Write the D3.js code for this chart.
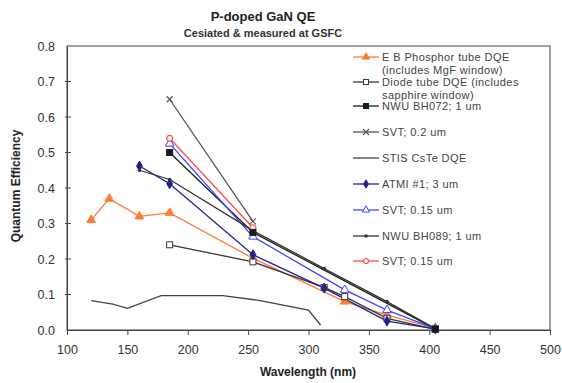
<!DOCTYPE html>
<html>
<head>
<meta charset="utf-8">
<script src="https://cdnjs.cloudflare.com/ajax/libs/d3/7.8.5/d3.min.js"></script>
<style>
  body { margin: 0; background: #fff; }
  svg text { font-family: "Liberation Sans", Arial, sans-serif; }
</style>
</head>
<body>
<div id="chart"></div>
<script>
// 1. Data (wavelength in nm, quantum efficiency)
var xTicks = [100, 150, 200, 250, 300, 350, 400, 450, 500];
var yTicks = [0, 0.1, 0.2, 0.3, 0.4, 0.5, 0.6, 0.7, 0.8];

var ebWl = [120, 135, 160, 185, 254, 330, 365, 405];
var ebQE = [0.31, 0.37, 0.32, 0.33, 0.202, 0.08, 0.042, 0.005];

var diodeWl = [185, 254, 313, 330, 365, 405];
var diodeQE = [0.24, 0.192, 0.12, 0.094, 0.033, 0.002];

var bh072Wl = [185, 254, 405];
var bh072QE = [0.50, 0.275, 0.003];

var svt02Wl = [185, 254];
var svt02QE = [0.65, 0.306];

var stisWl = [120, 138, 150, 178, 229, 260, 300, 310];
var stisQE = [0.083, 0.073, 0.061, 0.097, 0.097, 0.083, 0.056, 0.014];

var atmiWl = [160, 185, 254, 313, 365, 405];
var atmiQE = [0.462, 0.412, 0.212, 0.118, 0.025, 0.003];

var svt015bWl = [185, 254, 330, 365, 405];
var svt015bQE = [0.525, 0.263, 0.113, 0.056, 0.004];

var bh089Wl = [160, 185, 254, 313, 365, 405];
var bh089QE = [0.45, 0.424, 0.28, 0.173, 0.08, 0.004];

var svt015rWl = [185, 254];
var svt015rQE = [0.54, 0.288];

// series in legend order: label lines, colour, marker
var series = [
    { label: ["E B  Phosphor tube DQE", "(includes MgF  window)"], wl: ebWl, qe: ebQE, color: "#ff7a33", marker: "triFill" },
    { label: ["Diode tube DQE  (includes", "sapphire window)"], wl: diodeWl, qe: diodeQE, color: "#3a3a3a", marker: "squareOpen" },
    { label: ["NWU BH072; 1 um"], wl: bh072Wl, qe: bh072QE, color: "#1a1a1a", marker: "squareFill" },
    { label: ["SVT; 0.2 um"], wl: svt02Wl, qe: svt02QE, color: "#555555", marker: "cross" },
    { label: ["STIS CsTe DQE"], wl: stisWl, qe: stisQE, color: "#444444", marker: "none" },
    { label: ["ATMI #1; 3 um"], wl: atmiWl, qe: atmiQE, color: "#22228a", marker: "diamondFill" },
    { label: ["SVT; 0.15 um"], wl: svt015bWl, qe: svt015bQE, color: "#3d46ff", marker: "triOpen" },
    { label: ["NWU BH089; 1 um"], wl: bh089Wl, qe: bh089QE, color: "#333333", marker: "dot" },
    { label: ["SVT; 0.15 um"], wl: svt015rWl, qe: svt015rQE, color: "#ff4a4a", marker: "circleOpen" }
];

// 2. Layout
var width = 562, height = 383;
var plot = { left: 67, right: 550, top: 46, bottom: 330 };

var x = d3.scaleLinear().domain([100, 500]).range([plot.left, plot.right]);
var y = d3.scaleLinear().domain([0, 0.8]).range([plot.bottom, plot.top]);

var svg = d3.select("#chart").append("svg")
    .attr("width", width)
    .attr("height", height);

// 3. Titles
svg.append("text")
    .attr("x", 263).attr("y", 21)
    .attr("text-anchor", "middle")
    .style("font-size", "13px").style("font-weight", "bold").attr("fill", "#222")
    .text("P-doped  GaN QE");

svg.append("text")
    .attr("x", 263).attr("y", 37)
    .attr("text-anchor", "middle")
    .style("font-size", "11px").style("font-weight", "bold").attr("fill", "#333")
    .text("Cesiated & measured at GSFC");

// 4. Plot frame and axes
svg.append("rect")
    .attr("x", plot.left).attr("y", plot.top)
    .attr("width", plot.right - plot.left).attr("height", plot.bottom - plot.top)
    .attr("fill", "none").attr("stroke", "#444").attr("stroke-width", 1);

var xAxis = svg.append("g")
    .attr("transform", "translate(0," + plot.bottom + ")")
    .call(d3.axisBottom(x).tickValues(xTicks).tickSize(5).tickPadding(10).tickFormat(d3.format("d")));

var yAxis = svg.append("g")
    .attr("transform", "translate(" + plot.left + ",0)")
    .call(d3.axisLeft(y).tickValues(yTicks).tickSize(0).tickPadding(12).tickFormat(d3.format(".1f")));

// Excel-style short ticks crossing the value axis
svg.append("g").selectAll("line")
    .data(yTicks.slice(1, -1))
    .enter().append("line")
    .attr("x1", plot.left - 2).attr("x2", plot.left + 4)
    .attr("y1", d => y(d)).attr("y2", d => y(d))
    .attr("stroke", "#444");

[xAxis, yAxis].forEach(function (g) {
    g.select(".domain").attr("stroke", "#444");
    g.selectAll(".tick line").attr("stroke", "#444");
    g.selectAll(".tick text")
        .attr("fill", "#333")
        .style("font-size", "12.5px")
        .style("font-family", "'Liberation Sans', Arial, sans-serif");
});

svg.append("text")
    .attr("x", 308).attr("y", 376)
    .attr("text-anchor", "middle")
    .style("font-size", "12px").style("font-weight", "bold").attr("fill", "#222")
    .text("Wavelength (nm)");

svg.append("text")
    .attr("transform", "translate(20,186) rotate(-90)")
    .attr("text-anchor", "middle")
    .style("font-size", "12px").style("font-weight", "bold").attr("fill", "#222")
    .text("Quantum Efficiency");

// 5. Markers
function drawMarker(g, type, color, size) {
    var s = size || 6;
    if (type === "triFill" || type === "triOpen") {
        g.append("path")
            .attr("d", d3.symbol().type(d3.symbolTriangle).size(s * s * 0.9)())
            .attr("fill", type === "triFill" ? color : "#fff")
            .attr("stroke", color).attr("stroke-width", 1);
    } else if (type === "squareOpen" || type === "squareFill") {
        g.append("rect")
            .attr("x", -s / 2).attr("y", -s / 2).attr("width", s).attr("height", s)
            .attr("fill", type === "squareFill" ? color : "#fff")
            .attr("stroke", color).attr("stroke-width", 1);
    } else if (type === "diamondFill") {
        g.append("path")
            .attr("d", d3.symbol().type(d3.symbolDiamond).size(s * s * 0.8)())
            .attr("fill", color).attr("stroke", color);
    } else if (type === "circleOpen") {
        g.append("circle").attr("r", s / 2)
            .attr("fill", "#fff").attr("stroke", color).attr("stroke-width", 1.2);
    } else if (type === "cross") {
        g.append("path")
            .attr("d", "M-3,-3L3,3M-3,3L3,-3")
            .attr("stroke", color).attr("stroke-width", 1.1);
    } else if (type === "dot") {
        g.append("circle").attr("r", 1.8).attr("fill", color);
    }
}

// 6. Series lines, then points (NWU BH072 squares drawn last so they sit on top)
var line = d3.line()
    .x(d => x(d[0]))
    .y(d => y(d[1]));

series.forEach(function (s) {
    var pts = s.wl.map((w, i) => [w, s.qe[i]]);
    svg.append("path")
        .datum(pts)
        .attr("d", line)
        .attr("fill", "none")
        .attr("stroke", s.color)
        .attr("stroke-width", 1.3);
});

var drawOrder = [0, 1, 3, 5, 6, 7, 8, 2];
drawOrder.forEach(function (k) {
    var s = series[k];
    s.wl.forEach(function (w, i) {
        var g = svg.append("g").attr("transform", "translate(" + x(w) + "," + y(s.qe[i]) + ")");
        drawMarker(g, s.marker, s.color);
    });
});

// 7. Legend (top right, inside the plot)
var legendRows = [57, 82, 106, 132, 158, 184, 210, 236, 261];
var legend = svg.append("g");

series.forEach(function (s, i) {
    var ly = legendRows[i];
    legend.append("line")
        .attr("x1", 353).attr("x2", 379)
        .attr("y1", ly).attr("y2", ly)
        .attr("stroke", s.color).attr("stroke-width", 1.3);
    if (s.marker !== "none") {
        var g = legend.append("g").attr("transform", "translate(366," + ly + ")");
        drawMarker(g, s.marker, s.color, 5);
    }
    s.label.forEach(function (t, j) {
        legend.append("text")
            .attr("x", 382).attr("y", ly + 4 + j * 12.5)
            .style("font-size", "11px")
            .style("letter-spacing", "0.4px")
            .attr("fill", "#444")
            .text(t);
    });
});
</script>
</body>
</html>
